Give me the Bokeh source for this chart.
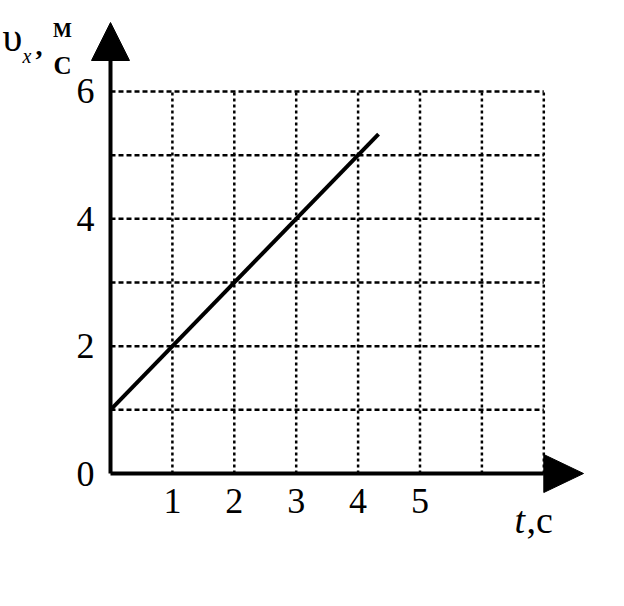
from bokeh.plotting import figure
from bokeh.models import Range1d
from bokeh.core.properties import value
from bokeh.embed import file_html
from bokeh.resources import INLINE

# velocity vs time data
t_vals = [0.0, 4.33]
v_vals = [1.0, 5.33]

# grid and tick definitions
t_grid = [1, 2, 3, 4, 5, 6, 7]
v_grid = [1, 2, 3, 4, 5, 6]
t_ticks = [1, 2, 3, 4, 5]
t_tick_labels = ["1", "2", "3", "4", "5"]
v_ticks = [0, 2, 4, 6]
v_tick_labels = ["0", "2", "4", "6"]

T_MAX = 7
V_MAX = 6

# pixel scale: 61.9 px per second, 63.67 px per m/s, origin at (110, 473)
SX = 61.9
SY = 63.67
W, H = 624, 606
OX, OY = 110, 473

p = figure(width=W, height=H, output_backend="svg", toolbar_location=None,
           x_axis_type=None, y_axis_type=None, min_border=0,
           x_range=Range1d(-OX / SX, (W - OX) / SX),
           y_range=Range1d(-(H - OY) / SY, OY / SY))
p.grid.visible = False
p.outline_line_color = None
p.background_fill_color = "white"
p.border_fill_color = "white"

FONT = value("Times New Roman")

# dotted grid
p.segment(x0=t_grid, y0=[0] * len(t_grid), x1=t_grid, y1=[V_MAX] * len(t_grid),
          line_color="black", line_width=2.5, line_dash="3 3")
p.segment(x0=[0] * len(v_grid), y0=v_grid, x1=[T_MAX] * len(v_grid), y1=v_grid,
          line_color="black", line_width=2.5, line_dash="5 3")

# axes with arrow heads
ax_hw_y = 19 / SY   # half width of x-arrow (in v units)
ax_hw_x = 19 / SX   # half width of y-arrow (in t units)
x_arrow_base = T_MAX
x_arrow_tip = (583 - OX) / SX
y_arrow_base = (OY - 60) / SY
y_arrow_tip = (OY - 22) / SY

p.segment(x0=[0, 0], y0=[0, 0], x1=[x_arrow_base, 0], y1=[0, y_arrow_base],
          line_color="black", line_width=4)
p.patches(xs=[[x_arrow_base, x_arrow_tip, x_arrow_base],
              [-ax_hw_x, 0, ax_hw_x]],
          ys=[[-ax_hw_y, 0, ax_hw_y],
              [y_arrow_base, y_arrow_tip, y_arrow_base]],
          fill_color="black", line_color="black", line_width=1)

# the velocity line
p.line(t_vals, v_vals, line_color="black", line_width=4)

# tick labels
p.text(x=t_ticks, y=[-27 / SY] * len(t_ticks), text=t_tick_labels,
       text_font=FONT, text_font_size="36px", text_align="center",
       text_baseline="middle", text_color="black")
p.text(x=[-25 / SX] * len(v_ticks), y=v_ticks, text=v_tick_labels,
       text_font=FONT, text_font_size="36px", text_align="center",
       text_baseline="middle", text_color="black")

# axis titles
p.text(x=[(514 - OX) / SX], y=[(OY - 519) / SY], text=["t"],
       text_font=FONT, text_font_style="italic", text_font_size="38px",
       text_align="left", text_baseline="alphabetic", text_color="black")
p.text(x=[(526 - OX) / SX], y=[(OY - 519) / SY], text=[",с"],
       text_font=FONT, text_font_size="38px",
       text_align="left", text_baseline="alphabetic", text_color="black")

p.text(x=[(2 - OX) / SX], y=[(OY - 37) / SY], text=["υ"],
       text_font=FONT, text_font_size="40px",
       text_align="left", text_baseline="alphabetic", text_color="black")
p.text(x=[(22 - OX) / SX], y=[(OY - 55) / SY], text=["x"],
       text_font=FONT, text_font_style="italic", text_font_size="20px",
       text_align="left", text_baseline="alphabetic", text_color="black")
p.text(x=[(35 - OX) / SX], y=[(OY - 45) / SY], text=[","],
       text_font=FONT, text_font_style="bold", text_font_size="28px",
       text_align="left", text_baseline="alphabetic", text_color="black")
p.text(x=[(62 - OX) / SX], y=[(OY - 29) / SY], text=["М"],
       text_font=FONT, text_font_style="bold", text_font_size="20px",
       text_align="center", text_baseline="alphabetic", text_color="black")
p.text(x=[(62 - OX) / SX], y=[(OY - 65) / SY], text=["С"],
       text_font=FONT, text_font_style="bold", text_font_size="25px",
       text_align="center", text_baseline="alphabetic", text_color="black")

open("out.html", "w").write(file_html(p, INLINE))
